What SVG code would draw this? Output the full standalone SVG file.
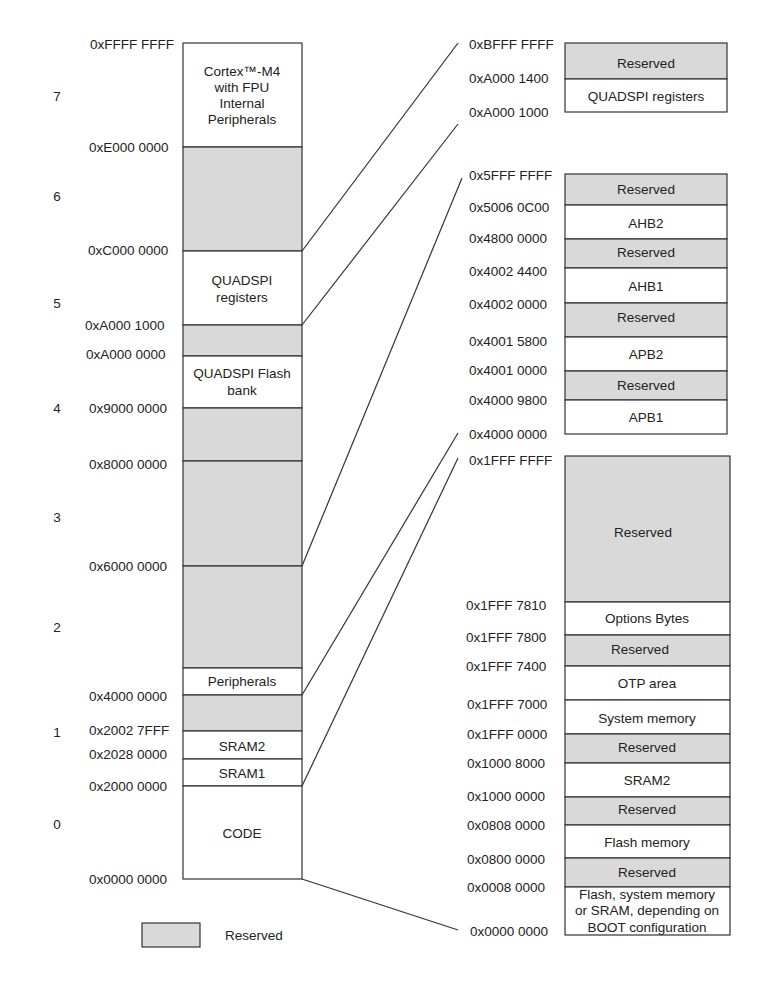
<svg xmlns="http://www.w3.org/2000/svg" width="760" height="1002" viewBox="0 0 760 1002">
<style>
text{font-family:"Liberation Sans",Arial,sans-serif;font-size:13.5px;fill:#222}
.c{text-anchor:middle}
.w{fill:#fff;stroke:#333;stroke-width:1.2}
.g{fill:#d9d9d9;stroke:#333;stroke-width:1.2}
.ln{stroke:#333;stroke-width:1.2;fill:none}
</style>
<rect width="760" height="1002" fill="#fff"/>
<g id="region-numbers">
<text class="c" x="57" y="101">7</text>
<text class="c" x="57" y="201">6</text>
<text class="c" x="57" y="308">5</text>
<text class="c" x="57" y="413">4</text>
<text class="c" x="57" y="522">3</text>
<text class="c" x="57" y="632">2</text>
<text class="c" x="57" y="737">1</text>
<text class="c" x="57" y="829">0</text>
</g>
<g id="left-addresses">
<text x="90" y="49">0xFFFF FFFF</text>
<text x="89" y="152">0xE000 0000</text>
<text x="88" y="255">0xC000 0000</text>
<text x="85" y="330">0xA000 1000</text>
<text x="86" y="359">0xA000 0000</text>
<text x="89" y="413">0x9000 0000</text>
<text x="89" y="469">0x8000 0000</text>
<text x="89" y="571">0x6000 0000</text>
<text x="89" y="701">0x4000 0000</text>
<text x="89" y="735">0x2002 7FFF</text>
<text x="89" y="759">0x2028 0000</text>
<text x="89" y="791">0x2000 0000</text>
<text x="89" y="884">0x0000 0000</text>
</g>
<g id="cortex"><rect class="w" x="183" y="43" width="119" height="104"/>
<text class="c" x="242" y="76">Cortex™-M4</text><text class="c" x="242" y="92">with FPU</text><text class="c" x="242" y="108">Internal</text><text class="c" x="242" y="124">Peripherals</text></g>
<g id="res-e000"><rect class="g" x="183" y="147" width="119" height="104"/></g>
<g id="quadspi-reg"><rect class="w" x="183" y="251" width="119" height="74"/>
<text class="c" x="242" y="285">QUADSPI</text><text class="c" x="242" y="302">registers</text></g>
<g id="res-a000"><rect class="g" x="183" y="325" width="119" height="31"/></g>
<g id="quadspi-flash"><rect class="w" x="183" y="356" width="119" height="52"/>
<text class="c" x="242" y="378">QUADSPI Flash</text><text class="c" x="242" y="395">bank</text></g>
<g id="res-9000"><rect class="g" x="183" y="408" width="119" height="53"/></g>
<g id="res-8000"><rect class="g" x="183" y="461" width="119" height="105"/></g>
<g id="res-6000"><rect class="g" x="183" y="566" width="119" height="102"/></g>
<g id="peripherals"><rect class="w" x="183" y="668" width="119" height="27"/>
<text class="c" x="242" y="686">Peripherals</text></g>
<g id="res-4000"><rect class="g" x="183" y="695" width="119" height="36"/></g>
<g id="sram2"><rect class="w" x="183" y="731" width="119" height="28"/>
<text class="c" x="242" y="751">SRAM2</text></g>
<g id="sram1"><rect class="w" x="183" y="759" width="119" height="27"/>
<text class="c" x="242" y="778">SRAM1</text></g>
<g id="code"><rect class="w" x="183" y="786" width="119" height="93"/>
<text class="c" x="242" y="838">CODE</text></g>
<g id="legend"><rect class="g" x="142" y="923" width="58" height="24"/>
<text x="225" y="940">Reserved</text></g>

<g id="right1-addresses">
<text x="469" y="49">0xBFFF FFFF</text>
<text x="469" y="83">0xA000 1400</text>
<text x="469" y="117">0xA000 1000</text>
</g>
<g id="r1-reserved"><rect class="g" x="565" y="43" width="162" height="36"/><text class="c" x="646" y="68">Reserved</text></g>
<g id="r1-quadspi"><rect class="w" x="565" y="79" width="162" height="33"/><text class="c" x="646" y="101">QUADSPI registers</text></g>

<g id="right2-addresses">
<text x="469" y="180">0x5FFF FFFF</text>
<text x="469" y="212">0x5006 0C00</text>
<text x="469" y="243">0x4800 0000</text>
<text x="469" y="276">0x4002 4400</text>
<text x="469" y="309">0x4002 0000</text>
<text x="469" y="346">0x4001 5800</text>
<text x="469" y="375">0x4001 0000</text>
<text x="469" y="405">0x4000 9800</text>
<text x="469" y="439">0x4000 0000</text>
</g>
<g id="r2-res1"><rect class="g" x="565" y="174" width="162" height="31"/><text class="c" x="646" y="194">Reserved</text></g>
<g id="r2-ahb2"><rect class="w" x="565" y="205" width="162" height="34"/><text class="c" x="646" y="228">AHB2</text></g>
<g id="r2-res2"><rect class="g" x="565" y="239" width="162" height="29"/><text class="c" x="646" y="257">Reserved</text></g>
<g id="r2-ahb1"><rect class="w" x="565" y="268" width="162" height="35"/><text class="c" x="646" y="291">AHB1</text></g>
<g id="r2-res3"><rect class="g" x="565" y="303" width="162" height="34"/><text class="c" x="646" y="322">Reserved</text></g>
<g id="r2-apb2"><rect class="w" x="565" y="337" width="162" height="34"/><text class="c" x="646" y="359">APB2</text></g>
<g id="r2-res4"><rect class="g" x="565" y="371" width="162" height="29"/><text class="c" x="646" y="390">Reserved</text></g>
<g id="r2-apb1"><rect class="w" x="565" y="400" width="162" height="34"/><text class="c" x="646" y="422">APB1</text></g>

<g id="right3-addresses">
<text x="469" y="465">0x1FFF FFFF</text>
<text x="466" y="610">0x1FFF 7810</text>
<text x="466" y="642">0x1FFF 7800</text>
<text x="466" y="671">0x1FFF 7400</text>
<text x="467" y="709">0x1FFF 7000</text>
<text x="467" y="739">0x1FFF 0000</text>
<text x="467" y="768">0x1000 8000</text>
<text x="467" y="801">0x1000 0000</text>
<text x="467" y="830">0x0808 0000</text>
<text x="467" y="864">0x0800 0000</text>
<text x="467" y="892">0x0008 0000</text>
<text x="470" y="936">0x0000 0000</text>
</g>
<g id="r3-res1"><rect class="g" x="565" y="456" width="165" height="146"/><text class="c" x="643" y="537">Reserved</text></g>
<g id="r3-options"><rect class="w" x="565" y="602" width="165" height="33"/><text class="c" x="647" y="623">Options Bytes</text></g>
<g id="r3-res2"><rect class="g" x="565" y="635" width="165" height="31"/><text class="c" x="640" y="654">Reserved</text></g>
<g id="r3-otp"><rect class="w" x="565" y="666" width="165" height="34"/><text class="c" x="647" y="688">OTP area</text></g>
<g id="r3-sysmem"><rect class="w" x="565" y="700" width="165" height="34"/><text class="c" x="647" y="723">System memory</text></g>
<g id="r3-res3"><rect class="g" x="565" y="734" width="165" height="29"/><text class="c" x="647" y="752">Reserved</text></g>
<g id="r3-sram2"><rect class="w" x="565" y="763" width="165" height="34"/><text class="c" x="647" y="785">SRAM2</text></g>
<g id="r3-res4"><rect class="g" x="565" y="797" width="165" height="28"/><text class="c" x="647" y="814">Reserved</text></g>
<g id="r3-flash"><rect class="w" x="565" y="825" width="165" height="33"/><text class="c" x="647" y="847">Flash memory</text></g>
<g id="r3-res5"><rect class="g" x="565" y="858" width="165" height="29"/><text class="c" x="647" y="877">Reserved</text></g>
<g id="r3-boot"><rect class="w" x="565" y="887" width="165" height="48"/>
<text class="c" x="647" y="899">Flash, system memory</text><text class="c" x="647" y="915">or SRAM, depending on</text><text class="c" x="647" y="932">BOOT configuration</text></g>

<g id="connectors" class="ln">
<line x1="302" y1="251" x2="458" y2="43"/>
<line x1="302" y1="325" x2="458" y2="124"/>
<line x1="302" y1="566" x2="462" y2="178"/>
<line x1="302" y1="695" x2="458" y2="433"/>
<line x1="302" y1="786" x2="458" y2="458"/>
<line x1="302" y1="879" x2="458" y2="930"/>
</g>
</svg>
